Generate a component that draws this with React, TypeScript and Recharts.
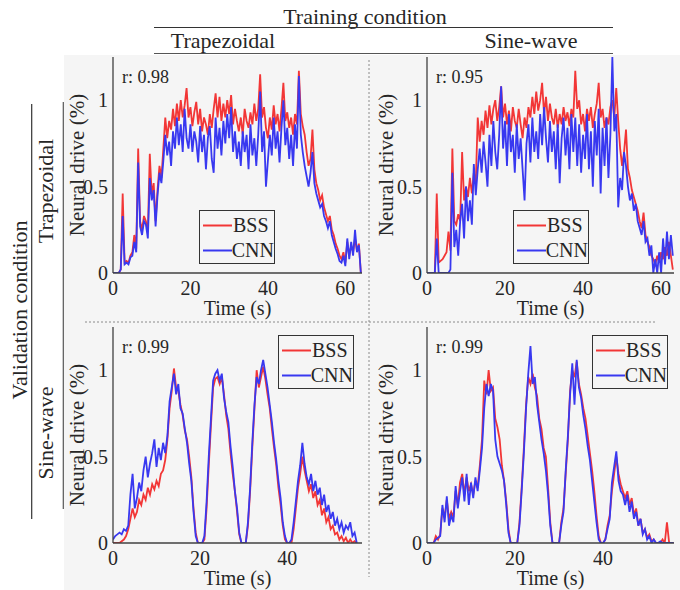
import React from 'react';
import { LineChart, Line, XAxis, YAxis, Legend } from 'recharts';

const FONT = '"Liberation Serif", "Times New Roman", Times, serif';
const BG = '#f5f5f5';
const AXIS = '#404040';
const TEXT = '#262626';
const RED = '#f23636';
const BLUE = '#3838f0';

const SAMPLE_STEP_S = 0.5;
const Y_TICKS = [0, 0.5, 1];
const X_TICKS_TRAP = [0, 20, 40, 60];
const X_TICKS_SINE = [0, 20, 40];
const CORRELATIONS = [0.98, 0.95, 0.99, 0.99];

// Top-left: validation trapezoidal, training trapezoidal (0..64 s)
const TL_BSS = [
  0, 0, 0, 0, 0.02, 0.46, 0.06, 0.07, 0.06, 0.1,
  0.12, 0.22, 0.14, 0.72, 0.3, 0.25, 0.33, 0.3, 0.24, 0.69,
  0.45, 0.52, 0.3, 0.48, 0.62, 0.55, 0.72, 0.9, 0.78, 0.88,
  0.83, 0.95, 0.85, 0.98, 0.88, 1.0, 0.9, 0.97, 1.07, 0.9,
  0.96, 0.85, 0.93, 0.99, 0.86, 0.95, 0.82, 0.9, 0.86, 0.8,
  0.92, 0.84, 0.95, 1.04, 0.9, 1.02, 0.88, 0.98, 0.9, 1.0,
  0.92, 1.03, 0.86, 0.95, 0.88, 0.82, 0.9, 0.8, 0.95, 0.88,
  0.84, 0.93, 0.86, 0.98, 0.88, 0.95, 1.15, 0.9, 0.96, 0.84,
  0.78, 0.9, 0.83, 0.97, 0.86, 0.92, 0.82, 0.95, 1.1, 0.88,
  0.93, 0.84, 0.9, 0.8, 0.92, 0.86, 1.17, 0.92, 0.85, 0.8,
  0.7, 0.62, 0.66, 0.83, 0.6, 0.52, 0.48, 0.42, 0.45, 0.38,
  0.34, 0.3, 0.33, 0.25, 0.22, 0.17, 0.14, 0.1, 0.08, 0.12,
  0.06, 0.18, 0.1, 0.16, 0.12, 0.2, 0.13, 0.17, 0,
];
const TL_CNN = [
  0, 0, 0, 0, 0.02, 0.33, 0.05, 0.06, 0.05, 0.09,
  0.1, 0.18, 0.12, 0.64, 0.27, 0.22, 0.3, 0.28, 0.2, 0.55,
  0.42, 0.48, 0.27, 0.45, 0.58, 0.52, 0.65, 0.8, 0.68, 0.76,
  0.62, 0.82, 0.72, 0.9, 0.74, 0.86, 0.7, 0.95, 0.78, 0.72,
  0.86, 0.7, 0.82, 0.76, 0.64, 0.85, 0.7, 0.8, 0.6, 0.78,
  0.85, 0.66, 0.58, 0.9, 0.72, 0.84, 0.68, 0.88, 0.75, 0.92,
  0.78, 0.96, 0.7, 0.82, 0.66, 0.76, 0.62, 0.82, 0.7, 0.8,
  0.6, 0.86, 0.68, 0.78, 0.62, 0.8, 1.05, 0.7, 0.82, 0.5,
  0.65, 0.8, 0.68, 0.9, 0.72, 0.82, 0.64, 0.84, 1.0, 0.74,
  0.84, 0.66, 0.8, 0.62, 0.86, 0.72, 1.14, 0.8, 0.7, 0.62,
  0.56, 0.5, 0.58, 0.7, 0.52, 0.46, 0.42, 0.38, 0.4, 0.33,
  0.3, 0.26, 0.3, 0.22, 0.18, 0.14, 0.11, 0.07, 0.06, 0.1,
  0.04, 0.2, 0.08, 0.18, 0.1, 0.25, 0.12, 0.16, 0,
];

// Top-right: validation trapezoidal, training sine-wave (0..63 s)
const TR_BSS = [
  0, 0, 0, 0, 0, 0.46, 0.06, 0.07, 0.08, 0.1,
  0.12, 0.24, 0.13, 0.72, 0.3, 0.28, 0.34, 0.3, 0.7, 0.42,
  0.5, 0.44, 0.55, 0.46, 0.58, 0.52, 0.9, 0.76, 0.88, 0.8,
  0.94, 0.84, 0.97, 0.86, 0.95, 1.0, 0.88, 0.96, 1.08, 0.9,
  0.98, 0.86, 0.94, 0.82, 0.96, 0.88, 0.84, 0.95, 0.86, 0.78,
  0.9, 0.84, 0.96, 0.9, 1.02, 0.92, 1.05, 0.94, 1.0, 1.1,
  0.92, 1.02, 0.88, 0.98, 0.9, 0.86, 0.95, 0.84, 0.92, 0.86,
  0.96, 0.88, 0.93, 0.85, 0.95, 0.9, 1.17, 0.95, 1.0, 0.86,
  0.92, 0.82, 0.95, 0.88, 0.96, 0.84, 0.92, 0.98, 1.1, 0.9,
  0.95, 0.84, 0.9, 0.86, 0.96, 1.0, 0.9, 1.07, 0.88, 0.72,
  0.62, 0.7, 0.83, 0.6, 0.55, 0.48, 0.44, 0.4, 0.36, 0.3,
  0.26, 0.35, 0.22, 0.18, 0.15, 0.1, 0.08, 0.05, 0.1, 0.06,
  0.12, 0.08, 0.15, 0.1, 0.18, 0.1, 0.02,
];
const TR_CNN = [
  0, 0, 0, 0, 0, 0.2, 0, 0, 0, 0,
  0, 0, 0.02, 0.58, 0.15, 0.25, 0.1, 0.3, 0.4, 0.2,
  0.5, 0.3, 0.42, 0.28, 0.63, 0.45, 0.6, 0.72, 0.58, 0.76,
  0.64, 0.5, 0.8, 0.62, 0.88, 0.7, 0.6, 0.8, 1.08, 0.72,
  0.88, 0.62, 0.92, 0.7, 0.8, 0.58, 0.86, 0.66, 0.78, 0.6,
  0.42, 0.75, 0.86, 0.64, 0.9, 0.7, 0.82, 0.66, 0.92, 0.74,
  0.96, 0.78, 0.64, 0.88, 0.7, 0.82, 0.6, 0.86, 0.52, 0.78,
  0.9, 0.68, 0.84, 0.6, 0.92, 0.7, 0.9, 0.62, 0.86, 0.58,
  0.8, 0.66, 0.92, 0.6, 0.82, 0.5, 0.88, 0.68, 0.95, 0.46,
  0.84, 0.62, 0.9, 0.55, 0.8, 1.25, 0.82, 0.92, 0.38, 0.55,
  0.48, 0.7, 0.62, 0.5, 0.42, 0.46, 0.36, 0.4, 0.3, 0.26,
  0.22, 0.3, 0.18, 0.2, 0.1, 0.16, 0, 0.08, 0, 0.12,
  0, 0.2, 0.05, 0.24, 0.08, 0.22, 0.1,
];

// Bottom-left: validation sine-wave, training trapezoidal (0..56 s)
const BL_BSS = [
  0, 0, 0, 0, 0.01, 0.02, 0.04, 0.08, 0.14, 0.2,
  0.15, 0.18, 0.25, 0.22, 0.28, 0.25, 0.32, 0.28, 0.34, 0.31,
  0.36, 0.33, 0.4, 0.42, 0.48, 0.6, 0.78, 0.88, 1.01, 0.9,
  0.88, 0.8, 0.74, 0.65, 0.6, 0.5, 0.38, 0.2, 0.06, 0,
  0, 0, 0.02, 0.2, 0.45, 0.68, 0.9, 0.95, 0.96, 0.92,
  0.96, 0.86, 0.74, 0.66, 0.52, 0.4, 0.3, 0.18, 0.05, 0,
  0, 0, 0.1, 0.3, 0.55, 0.78, 1.0, 0.9, 0.96, 1.02,
  0.95, 0.86, 0.78, 0.66, 0.55, 0.45, 0.32, 0.22, 0.1, 0.02,
  0, 0, 0, 0.08, 0.2, 0.32, 0.4, 0.5, 0.42, 0.36,
  0.3, 0.34, 0.26, 0.3, 0.22, 0.25, 0.16, 0.2, 0.12, 0.15,
  0.08, 0.1, 0.05, 0.06, 0.02, 0.04, 0.01, 0.03, 0, 0.02,
  0, 0.01, 0,
];
const BL_CNN = [
  0.02, 0.04, 0.05, 0.06, 0.05, 0.08, 0.07, 0.1, 0.28, 0.4,
  0.2, 0.26, 0.35, 0.3, 0.42, 0.5, 0.38, 0.46, 0.52, 0.6,
  0.44, 0.55, 0.48, 0.58, 0.52, 0.62, 0.82, 0.9, 0.98, 0.86,
  0.92, 0.78, 0.75, 0.66, 0.58, 0.46, 0.36, 0.18, 0.04, 0,
  0, 0, 0.04, 0.24, 0.5, 0.72, 0.94, 0.98, 1.0, 0.94,
  0.98, 0.84, 0.76, 0.7, 0.56, 0.44, 0.3, 0.2, 0.06, 0,
  0, 0, 0.12, 0.32, 0.58, 0.8, 0.96, 0.92, 1.0, 1.06,
  0.98, 0.9, 0.8, 0.7, 0.58, 0.48, 0.36, 0.26, 0.12, 0.04,
  0, 0, 0.02, 0.12, 0.24, 0.36, 0.45, 0.58, 0.46, 0.38,
  0.34, 0.4, 0.3, 0.36, 0.28, 0.32, 0.22, 0.28, 0.18, 0.22,
  0.14, 0.18, 0.1, 0.14, 0.08, 0.12, 0.06, 0.1, 0.08, 0.12,
  0.04, 0.06, 0,
];

// Bottom-right: validation sine-wave, training sine-wave (0..56 s)
const BR_BSS = [
  0, 0, 0, 0, 0.04, 0.02, 0.05, 0.2, 0.15, 0.25,
  0.14, 0.18, 0.15, 0.3, 0.22, 0.35, 0.4, 0.28, 0.38, 0.3,
  0.34, 0.28, 0.36, 0.32, 0.45, 0.6, 0.94, 0.86, 1.0, 0.88,
  0.9, 0.72, 0.67, 0.6, 0.45, 0.36, 0.24, 0.08, 0, 0,
  0, 0, 0.12, 0.32, 0.55, 0.8, 0.96, 0.92, 0.98, 0.9,
  0.85, 0.72, 0.66, 0.55, 0.5, 0.32, 0.12, 0, 0, 0,
  0, 0.12, 0.2, 0.4, 0.6, 0.88, 1.0, 0.96, 1.05, 0.92,
  0.86, 0.78, 0.72, 0.62, 0.52, 0.42, 0.3, 0.16, 0.04, 0,
  0, 0.02, 0.1, 0.16, 0.3, 0.4, 0.5, 0.4, 0.34, 0.3,
  0.26, 0.3, 0.22, 0.26, 0.16, 0.2, 0.1, 0.14, 0.06, 0.08,
  0.03, 0.05, 0.01, 0.02, 0, 0, 0, 0.02, 0, 0.12,
  0, 0, 0,
];
const BR_CNN = [
  0, 0, 0, 0, 0.02, 0.03, 0.04, 0.22, 0.12, 0.27,
  0.1, 0.16, 0.12, 0.33, 0.2, 0.3, 0.38, 0.24, 0.4, 0.22,
  0.35, 0.26, 0.38, 0.3, 0.42, 0.55, 0.78, 0.92, 0.85, 0.92,
  0.88, 0.6, 0.5, 0.46, 0.42, 0.36, 0.22, 0.06, 0, 0,
  0, 0, 0.1, 0.3, 0.52, 0.78, 0.98, 1.14, 0.92, 0.96,
  0.8, 0.7, 0.6, 0.52, 0.42, 0.28, 0.1, 0, 0, 0,
  0, 0.1, 0.18, 0.42, 0.62, 0.86, 1.04, 0.8, 1.06, 0.9,
  0.84, 0.74, 0.66, 0.56, 0.48, 0.36, 0.24, 0.12, 0.02, 0,
  0, 0.02, 0.08, 0.14, 0.35, 0.44, 0.53, 0.36, 0.3, 0.28,
  0.22, 0.28, 0.18, 0.24, 0.14, 0.18, 0.1, 0.14, 0.05, 0.08,
  0.02, 0.04, 0, 0.02, 0, 0, 0.01, 0, 0, 0,
  0, 0, 0,
];

function buildRows(bss: number[], cnn: number[]) {
  return bss.map((v, i) => ({ t: i * SAMPLE_STEP_S, BSS: v, CNN: cnn[i] }));
}

const PANELS = [
  { key: 'tl', left: 113, top: 57, plotW: 249, plotH: 216, xMax: 64.3, xTicks: X_TICKS_TRAP, data: buildRows(TL_BSS, TL_CNN), r: CORRELATIONS[0], legend: { x: 199, y: 210 }, ylabX: 84 },
  { key: 'tr', left: 427, top: 57, plotW: 247, plotH: 216, xMax: 63.3, xTicks: X_TICKS_TRAP, data: buildRows(TR_BSS, TR_CNN), r: CORRELATIONS[1], legend: { x: 513, y: 210 }, ylabX: 393 },
  { key: 'bl', left: 113, top: 327, plotW: 249, plotH: 216, xMax: 57.2, xTicks: X_TICKS_SINE, data: buildRows(BL_BSS, BL_CNN), r: CORRELATIONS[2], legend: { x: 278, y: 335 }, ylabX: 84 },
  { key: 'br', left: 427, top: 327, plotW: 247, plotH: 216, xMax: 56.1, xTicks: X_TICKS_SINE, data: buildRows(BR_BSS, BR_CNN), r: CORRELATIONS[3], legend: { x: 592, y: 335 }, ylabX: 393 },
];

const YW = 40;
const XH = 50;
const MT = 6;
const MR = 5;

function LegendBox(props: any) {
  const payload = props.payload || [];
  return (
    <div style={{ width: 76, height: 54, boxSizing: 'border-box', border: '1.6px solid #333', background: BG, paddingTop: 2, fontFamily: FONT, fontSize: 20, color: TEXT }}>
      {payload.map((p: any) => (
        <div key={p.value} style={{ display: 'flex', alignItems: 'center', height: 25 }}>
          <svg width={33} height={25} style={{ display: 'block' }}>
            <line x1={3} x2={32} y1={12.5} y2={12.5} stroke={p.color} strokeWidth={2} />
          </svg>
          <span style={{ lineHeight: '25px', fontFamily: FONT }}>{p.value}</span>
        </div>
      ))}
    </div>
  );
}

function Panel({ p }: { p: any }) {
  const chartLeft = p.left - YW;
  const chartTop = p.top - MT;
  const tickStyle = { fill: TEXT, fontSize: 20, fontFamily: FONT, style: { fontFamily: FONT } };
  return (
    <div style={{ position: 'absolute', left: chartLeft, top: chartTop, fontFamily: FONT }}>
      <LineChart width={YW + p.plotW + MR} height={MT + p.plotH + XH} data={p.data} margin={{ top: MT, right: MR, bottom: 0, left: 0 }} style={{ fontFamily: FONT }}>
        <XAxis
          type="number"
          dataKey="t"
          domain={[0, p.xMax]}
          ticks={p.xTicks}
          allowDataOverflow
          height={XH}
          axisLine={{ stroke: AXIS, strokeWidth: 1.3 }}
          tickLine={false}
          tickSize={0}
          tickMargin={8}
          tick={tickStyle}
          interval={0}
          label={{ value: 'Time (s)', position: 'insideBottom', offset: 8, fill: TEXT, fontSize: 20, fontFamily: FONT, style: { fontFamily: FONT } }}
        />
        <YAxis
          type="number"
          domain={[0, 1.25]}
          ticks={Y_TICKS}
          allowDataOverflow
          width={YW}
          axisLine={{ stroke: AXIS, strokeWidth: 1.3 }}
          tickLine={false}
          tickSize={0}
          tickMargin={5}
          tick={tickStyle}
          interval={0}
        />
        <Line type="linear" dataKey="BSS" name="BSS" stroke={RED} strokeWidth={1.8} dot={false} activeDot={false} isAnimationActive={false} />
        <Line type="linear" dataKey="CNN" name="CNN" stroke={BLUE} strokeWidth={1.8} dot={false} activeDot={false} isAnimationActive={false} />
        <Legend
          layout="vertical"
          align="center"
          verticalAlign="middle"
          content={LegendBox}
          wrapperStyle={{ left: p.legend.x - chartLeft, top: p.legend.y - chartTop, width: 'auto', height: 'auto' }}
        />
      </LineChart>
    </div>
  );
}

export default function App() {
  const txt = { fill: TEXT, style: { fontFamily: FONT } } as const;
  return (
    <div style={{ position: 'absolute', left: 0, top: 0, width: 680, height: 590, background: '#ffffff', overflow: 'hidden', fontFamily: FONT }}>
      <svg width={680} height={590} style={{ position: 'absolute', left: 0, top: 0 }}>
        <rect x={64} y={55} width={616} height={535} fill={BG} />
        <text x={365} y={23.5} textAnchor="middle" fontSize={22} {...txt}>Training condition</text>
        <line x1={154} x2={613} y1={27.5} y2={27.5} stroke="#333" strokeWidth={1.2} />
        <text x={223} y={48} textAnchor="middle" fontSize={22} {...txt}>Trapezoidal</text>
        <text x={531} y={48} textAnchor="middle" fontSize={22} {...txt}>Sine-wave</text>
        <line x1={154} x2={613} y1={53.5} y2={53.5} stroke="#555" strokeWidth={1.2} />

        <text x={27} y={310} textAnchor="middle" fontSize={22} transform="rotate(-90 27 310)" {...txt}>Validation condition</text>
        <line x1={31.7} x2={31.7} y1={104} y2={519} stroke="#333" strokeWidth={1.2} />
        <text x={53} y={191} textAnchor="middle" fontSize={22} transform="rotate(-90 53 191)" {...txt}>Trapezoidal</text>
        <text x={53} y={433} textAnchor="middle" fontSize={22} transform="rotate(-90 53 433)" {...txt}>Sine-wave</text>
        <line x1={63.3} x2={63.3} y1={102} y2={509} stroke="#555" strokeWidth={1.2} />

        <line x1={369} x2={369} y1={60} y2={577} stroke="#8a8a8a" strokeWidth={1} strokeDasharray="2 2" />
        <line x1={85} x2={655} y1={322} y2={322} stroke="#8a8a8a" strokeWidth={1} strokeDasharray="2 2" />

        {PANELS.map((p) => (
          <g key={p.key}>
            <text x={p.ylabX} y={p.top + p.plotH / 2} textAnchor="middle" fontSize={21} transform={`rotate(-90 ${p.ylabX} ${p.top + p.plotH / 2})`} {...txt}>Neural drive (%)</text>
            <text x={p.left + 9} y={p.top + 26} fontSize={18} {...txt}>{`r: ${p.r.toFixed(2)}`}</text>
          </g>
        ))}
      </svg>
      {PANELS.map((p) => (
        <Panel key={p.key} p={p} />
      ))}
    </div>
  );
}
